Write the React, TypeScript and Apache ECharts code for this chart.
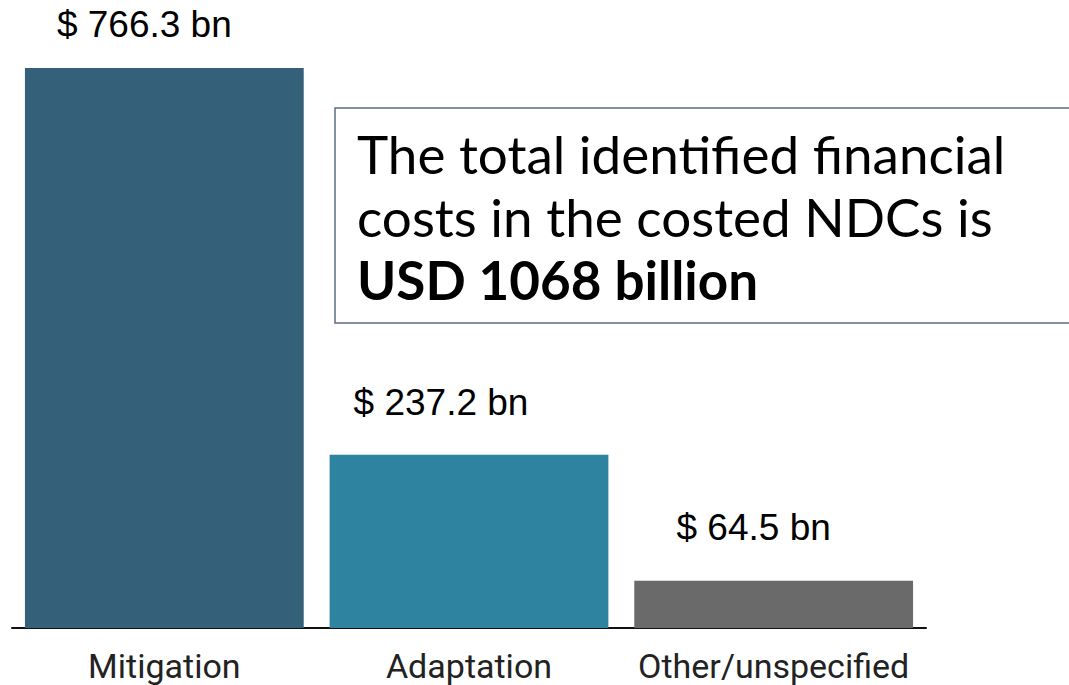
import React, { useEffect, useRef } from "react";
import * as echarts from "echarts";

const categories = ["Mitigation", "Adaptation", "Other/unspecified"];
const values = [766.3, 237.2, 64.5];
const barColors = ["#346079", "#2e84a0", "#6a6a6a"];
const labelOffsets = [[-20, -20], [-28, -29], [-20, -30]];
const boxLines = ["The total identified financial", "costs in the costed NDCs is"];
const boxBold = "USD 1068 billion";

export default function App() {
  const ref = useRef<HTMLDivElement>(null);
  useEffect(() => {
    if (!ref.current) return;
    const chart = echarts.init(ref.current, null, { renderer: "svg" });
    chart.setOption({
      animation: false,
      backgroundColor: "#ffffff",
      grid: { left: 12, right: 143, top: 43.4, bottom: 57, containLabel: false },
      xAxis: {
        type: "category",
        data: categories,
        axisLine: { show: true, lineStyle: { color: "#111111", width: 2 } },
        axisTick: { show: false },
        axisLabel: {
          interval: 0,
          hideOverlap: false,
          color: "#222222",
          fontFamily: "Roboto",
          fontSize: 34,
          margin: 21,
        },
      },
      yAxis: {
        type: "value",
        min: 0,
        max: 800,
        show: false,
        splitLine: { show: false },
      },
      series: [
        {
          type: "bar",
          barCategoryGap: "8.5%",
          data: values.map((v, i) => ({
            value: v,
            itemStyle: { color: barColors[i] },
            label: { offset: labelOffsets[i] },
          })),
          label: {
            show: true,
            position: "top",
            distance: 5,
            formatter: (p: any) => "$ " + p.value + " bn",
            fontFamily: "Liberation Sans",
            fontSize: 37,
            color: "#000000",
          },
        },
      ],
      graphic: [
        {
          type: "rect",
          shape: { x: 335, y: 108, width: 800, height: 215 },
          style: { fill: "#ffffff", stroke: "#5b6f85", lineWidth: 1.5 },
          z: 10,
        },
        {
          type: "text",
          x: 357,
          y: 122,
          z: 11,
          style: {
            text:
              boxLines.map((l) => "{n|" + l + "}").join("\n") +
              "\n{b|" + boxBold + "}",
            verticalAlign: "top",
            align: "left",
            rich: {
              n: { fontFamily: "Lato", fontSize: 53, lineHeight: 63, fill: "#000000" },
              b: { fontFamily: "Lato", fontSize: 53, fontWeight: "bold", lineHeight: 63, fill: "#000000" },
            },
          },
        },
      ],
    });
    return () => chart.dispose();
  }, []);
  return (
    <div
      ref={ref}
      style={{ position: "fixed", left: 0, top: 0, width: 1069, height: 685 }}
    />
  );
}
